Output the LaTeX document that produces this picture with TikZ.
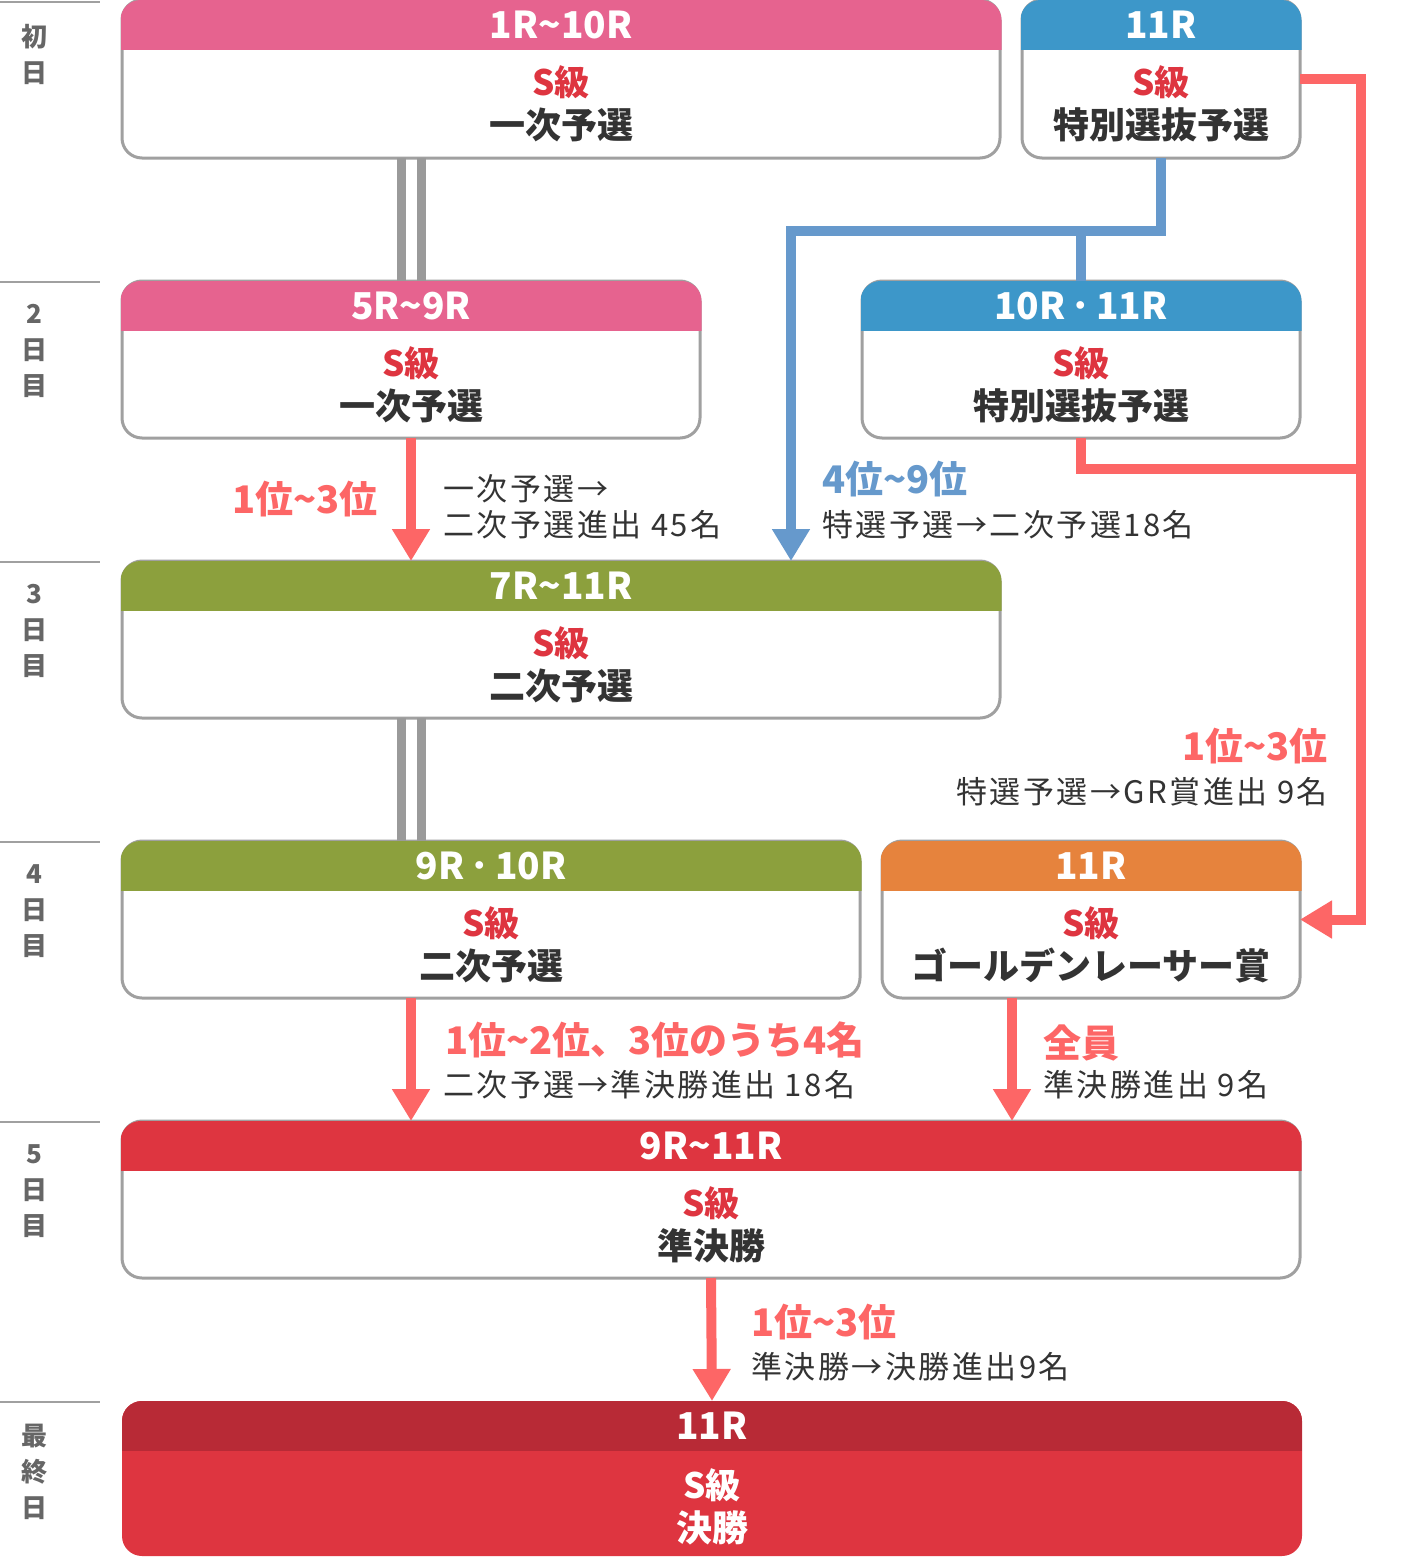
\documentclass[tikz,border=0pt]{standalone}
\usepackage{fontspec}
\setmainfont{Noto Sans CJK JP}
\newfontfamily\notefont{Noto Sans CJK JP}[LetterSpace=8]
\usetikzlibrary{arrows.meta,calc}
\definecolor{pinkh}{HTML}{E6638F}
\definecolor{blueh}{HTML}{3D97C9}
\definecolor{greenh}{HTML}{8CA03D}
\definecolor{orangeh}{HTML}{E6833D}
\definecolor{redh}{HTML}{DE3540}
\definecolor{darkredh}{HTML}{B82A36}
\definecolor{sred}{HTML}{DE3540}
\definecolor{arrred}{HTML}{FD6666}
\definecolor{arrblue}{HTML}{6699CC}
\definecolor{bordergray}{HTML}{A0A0A0}
\definecolor{dblgray}{HTML}{9A9A9A}
\definecolor{darktext}{HTML}{333333}
\definecolor{daygray}{HTML}{666666}
\newcommand\wv{\textasciitilde}
\newcommand\stagebox[8]{%
  \node[stagebody, minimum width={#4-#2}, minimum height={#5-#3}] (#1) at ({(#2+#4)/2},{(#3+#5)/2}) {};
  \begin{scope}
    \clip[rounded corners=20pt] (#2-1.5,#3) rectangle (#4+1.5,#5+1.5);
    \fill[#6] (#2-1.5,#3) rectangle (#4+1.5,#3+50);
  \end{scope}
  \node[hdr] (#1-h) at ({(#2+#4)/2},#3+25) {#7};
  \node[grade] (#1-g) at ({(#2+#4)/2},#3+82) {S級};
  \node[stagename] (#1-n) at ({(#2+#4)/2},#3+125) {#8};
}
\begin{document}
\begin{tikzpicture}[x=1pt,y=-1pt,
  stagebody/.style={draw=bordergray, line width=3pt, fill=white, rounded corners=20pt, inner sep=0pt, outer sep=0pt},
  hdr/.style={text=white, font=\bfseries\fontsize{37}{40}\selectfont, inner sep=0pt},
  grade/.style={text=sred, font=\bfseries\fontsize{35}{38}\selectfont, inner sep=0pt},
  stagename/.style={text=darktext, font=\bfseries\fontsize{36}{38}\selectfont, inner sep=0pt},
  note/.style={text=darktext, font=\notefont\fontsize{31}{34}\selectfont, inner sep=0pt},
  rankr/.style={text=arrred, font=\bfseries\fontsize{38}{42}\selectfont, inner sep=0pt},
  rankb/.style={text=arrblue, font=\bfseries\fontsize{38}{42}\selectfont, inner sep=0pt},
  day/.style={text=daygray, font=\bfseries\fontsize{26}{36}\selectfont, align=center, inner sep=0pt},
  sepline/.style={draw=bordergray, line width=2pt},
  redline/.style={draw=arrred, line width=10pt},
  blueline/.style={draw=arrblue, line width=10pt},
  dblline/.style={draw=dblgray, line width=9pt},
  arr/.style={-{Triangle[width=36pt,length=32pt]}},
]
\useasboundingbox (0,0) rectangle (1421,1561);
\fill[white] (0,0) rectangle (1421,1561);

% day separators
\foreach \yy in {2,282,562,842,1122,1402} \draw[sepline] (0,\yy) -- (100,\yy);
\node[day] (d1) at (34,54) {初\\日};
\node[day] (d2) at (34,351) {2\\日\\目};
\node[day] (d3) at (34,631) {3\\日\\目};
\node[day] (d4) at (34,911) {4\\日\\目};
\node[day] (d5) at (34,1191) {5\\日\\目};
\node[day] (d6) at (34,1472) {最\\終\\日};

\coordinate (bj) at (791,231);
\coordinate (rx) at (1361,0);
\coordinate (gx) at (1012,0);

% boxes
\stagebox{A}{122}{0}{1000}{158}{pinkh}{1R\wv10R}{一次予選}
\stagebox{B}{1022}{0}{1300}{158}{blueh}{11R}{特別選抜予選}
\stagebox{C}{122}{281}{700}{438}{pinkh}{5R\wv9R}{一次予選}
\stagebox{D}{862}{281}{1300}{438}{blueh}{10R\,･\,11R}{特別選抜予選}
\stagebox{E}{122}{561}{1000}{718}{greenh}{7R\wv11R}{二次予選}
\stagebox{F}{122}{841}{860}{998}{greenh}{9R\,･\,10R}{二次予選}
\stagebox{G}{882}{841}{1300}{998}{orangeh}{11R}{ゴールデンレーサー賞}
\stagebox{H}{122}{1121}{1300}{1278}{redh}{9R\wv11R}{準決勝}

% final
\node[fill=redh, rounded corners=20pt, inner sep=0pt, outer sep=0pt, minimum width=1180, minimum height=155] (I) at (712,1478.5) {};
\begin{scope}
  \clip[rounded corners=20pt] (122,1401) rectangle (1302,1556);
  \fill[darkredh] (122,1401) rectangle (1302,1451);
\end{scope}
\node[hdr] (I-h) at (712,1426) {11R};
\node[grade, text=white] (I-g) at (712,1485) {S級};
\node[stagename, text=white] (I-n) at (712,1528) {決勝};

% double gray lines
\draw[dblline] ([xshift=-10pt]A.south -| C.north) -- ([xshift=-10pt]C.north);
\draw[dblline] ([xshift=10pt]A.south -| C.north) -- ([xshift=10pt]C.north);
\draw[dblline] ([xshift=-10pt]E.south -| C.north) -- ([xshift=-10pt]F.north -| C.north);
\draw[dblline] ([xshift=10pt]E.south -| C.north) -- ([xshift=10pt]F.north -| C.north);

% red arrows
\draw[redline, arr] (C.south) -- (C.south |- E.north);
\draw[redline, arr] (F.south -| C.south) -- (C.south |- H.north);
\draw[redline, arr] (G.south -| gx) -- (gx |- H.north);
\draw[redline, arr] (H.south) -- (I.north);
\draw[redline, arr] (B.east) -| (rx |- G.east) -- (G.east);
\draw[redline] (D.south) |- (rx |- 0,469);

% blue
\draw[blueline, arr] (B.south) |- (bj) -- (bj |- E.north);
\draw[blueline] (D.north) -- (D.north |- bj);

% labels
\node[rankr, anchor=east] (l1) at (378,499) {1位\wv3位};
\node[note, anchor=west] (l2) at (443,489) {一次予選→};
\node[note, anchor=west] (l3) at (443,525) {二次予選進出 45名};
\node[rankb, anchor=west] (l4) at (822,479) {4位\wv9位};
\node[note, anchor=west] (l5) at (822,525) {特選予選→二次予選18名};
\node[rankr, anchor=east] (l6) at (1328,746) {1位\wv3位};
\node[note, anchor=east] (l7) at (1328,792) {特選予選→GR賞進出 9名};
\node[rankr, anchor=west] (l8) at (445,1040) {1位\wv2位、3位のうち4名};
\node[note, anchor=west] (l9) at (443,1085) {二次予選→準決勝進出 18名};
\node[rankr, anchor=west] (l10) at (1043,1043) {全員};
\node[note, anchor=west] (l11) at (1043,1085) {準決勝進出 9名};
\node[rankr, anchor=west] (l12) at (751,1322) {1位\wv3位};
\node[note, anchor=west] (l13) at (751,1367) {準決勝→決勝進出9名};
\end{tikzpicture}
\end{document}
